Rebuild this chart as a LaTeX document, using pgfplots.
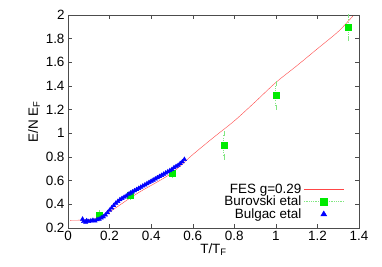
\documentclass[border=0pt]{standalone}
\usepackage{fontspec}
\setmainfont{Liberation Sans}
\usepackage{pgfplots}
\pgfplotsset{compat=1.18}
\definecolor{fesred}{RGB}{255,70,70}
\definecolor{bgreen}{RGB}{0,235,0}
\definecolor{lgreen}{RGB}{130,230,130}
\begin{document}
\begin{tikzpicture}
\begin{axis}[name=ax,
  scale only axis, width=291bp, height=213bp,
  xmin=0, xmax=1.4, ymin=0.2, ymax=2,
  xtick={0,0.2,0.4,0.6,0.8,1,1.2,1.4},
  ytick={0.2,0.4,0.6,0.8,1,1.2,1.4,1.6,1.8,2},
  xticklabels={0,0.2,0.4,0.6,0.8,1,1.2,1.4},
  yticklabels={0.2,0.4,0.6,0.8,1,1.2,1.4,1.6,1.8,2},
  tick align=inside, major tick length=4bp,
  every tick/.style={black!70, thin},
  axis line style={black!70, thin},
  ticklabel style={font=\fontsize{13.5}{15}\selectfont},
  label style={font=\fontsize{13.5}{15}\selectfont},
  xlabel={T/T\textsubscript{F}},
  ylabel={E/N E\textsubscript{F}},
  xlabel style={yshift=4bp},
  ylabel style={yshift=-1bp},
  legend style={draw=none, fill=none, at={(0.96,0.02)}, anchor=south east,
    font=\fontsize{13.5}{15}\selectfont, row sep=-3bp},
  legend cell align=right, legend plot pos=right,
]
\addplot[fesred, thin, smooth, no markers,
  legend image code/.code={\draw[fesred, thin] (0bp,0bp) -- (40bp,0bp);}] coordinates {
 (0.01,0.265) (0.05,0.266) (0.1,0.27) (0.13,0.278) (0.15,0.287) (0.175,0.31) (0.2,0.335) (0.25,0.395)
 (0.3,0.455) (0.35,0.51) (0.4,0.56) (0.45,0.61) (0.5,0.665) (0.55,0.74) (0.6,0.82)
 (0.7,0.965) (0.8,1.105) (0.9,1.265) (1.0,1.43) (1.1,1.57) (1.2,1.715) (1.3,1.86) (1.37,1.99)
};
\addlegendentry{FES g=0.29}
\addplot[only marks, mark=square*, mark size=3bp, color=bgreen,
  legend image code/.code={
    \draw[lgreen, densely dotted, line width=0.8pt] (0bp,0bp) -- (40bp,0bp);
    \fill[bgreen] (16.5bp,-3.5bp) rectangle (23.5bp,3.5bp);},
  error bars/.cd, y dir=both, y explicit,
  error bar style={lgreen, dotted, line width=0.9pt},
  error mark options={lgreen, solid, mark size=2.5bp, line width=0.6pt}]
  coordinates {
 (0.15,0.31) +- (0,0.02)
 (0.3,0.48) +- (0,0.02)
 (0.5,0.66) +- (0,0.02)
 (0.75,0.90) +- (0,0.10)
 (1.0,1.32) +- (0,0.10)
 (1.35,1.90) +- (0,0.10)
};
\addlegendentry{Burovski etal}
\addplot[only marks, mark=triangle*, mark size=2.5bp, color=blue,
  legend image code/.code={\fill[blue] (17bp,-2bp) -- (23bp,-2bp) -- (20bp,3bp) -- cycle;}] coordinates {
 (0.07,0.275) (0.075,0.255) (0.085,0.25) (0.09,0.262) (0.1,0.255) (0.11,0.26) (0.12,0.265)
 (0.13,0.26) (0.14,0.27) (0.15,0.275) (0.16,0.285) (0.17,0.295) (0.18,0.31) (0.19,0.33)
 (0.2,0.35) (0.21,0.37) (0.22,0.39) (0.23,0.41) (0.24,0.425) (0.25,0.44) (0.26,0.45)
 (0.27,0.46) (0.28,0.47) (0.29,0.485) (0.3,0.495) (0.31,0.505) (0.32,0.515) (0.33,0.525)
 (0.34,0.535) (0.35,0.545) (0.36,0.555) (0.37,0.565) (0.38,0.575) (0.39,0.585) (0.4,0.595)
 (0.41,0.605) (0.42,0.615) (0.43,0.625) (0.44,0.635) (0.45,0.645) (0.46,0.655) (0.47,0.665)
 (0.48,0.675) (0.49,0.685) (0.5,0.695) (0.51,0.71) (0.52,0.72) (0.53,0.73) (0.54,0.745)
 (0.55,0.76) (0.56,0.78)
};
\addlegendentry{Bulgac etal}
\end{axis}
\path ([xshift=-68bp,yshift=-39bp]ax.south west) rectangle ([xshift=23bp,yshift=15bp]ax.north east);
\end{tikzpicture}
\end{document}
